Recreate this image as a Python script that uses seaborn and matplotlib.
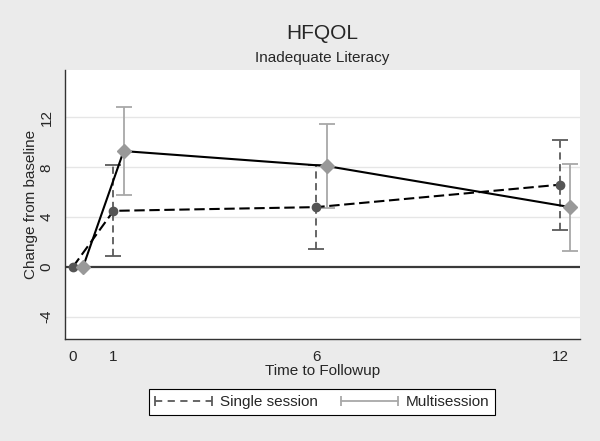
import numpy as np
import pandas as pd
import matplotlib
matplotlib.use("Agg")
import matplotlib.pyplot as plt
import seaborn as sns
from matplotlib.lines import Line2D
from matplotlib.legend_handler import HandlerLine2D

# values
months = [0, 1, 6, 12]
single_mean = [0.0, 4.5, 4.8, 6.6]
single_lo = [0.0, 0.9, 1.4, 3.0]
single_hi = [0.0, 8.2, 8.2, 10.2]
multi_mean = [0.0, 9.3, 8.1, 4.8]
multi_lo = [0.0, 5.8, 4.7, 1.3]
multi_hi = [0.0, 12.8, 11.5, 8.3]
x_offset = 0.25  # multisession plotted slightly right of the time point

df = pd.concat([
    pd.DataFrame({"time": months, "change": single_mean, "lo": single_lo,
                  "hi": single_hi, "group": "Single session"}),
    pd.DataFrame({"time": np.array(months) + x_offset, "change": multi_mean,
                  "lo": multi_lo, "hi": multi_hi, "group": "Multisession"}),
], ignore_index=True)

sns.set_style("white")
plt.rcParams["font.family"] = ["Liberation Sans", "DejaVu Sans"]
plt.rcParams["axes.unicode_minus"] = False

bg = "#ebebeb"
fig = plt.figure(figsize=(6, 4.41), dpi=100, facecolor=bg)
ax = fig.add_axes([0.108, 0.231, 0.859, 0.610])
ax.set_facecolor("white")

# gridlines and zero line
for yv in [-4, 4, 8, 12]:
    ax.axhline(yv, color="#e6e6e6", lw=1.0, zorder=0)
ax.axhline(0, color="#3a3a3a", lw=1.6, zorder=1)

styles = {
    "Single session": dict(ecolor="#5a5a5a", ls=(0, (4, 2.5)), mcolor="#555555",
                           marker="o", ms=6),
    "Multisession": dict(ecolor="#a8a8a8", ls="-", mcolor="#999999",
                         marker="D", ms=7),
}

for name, st in styles.items():
    sub = df[df["group"] == name]
    ci = sub[sub["hi"] > sub["lo"]]
    eb = ax.errorbar(ci["time"], ci["change"],
                     yerr=[ci["change"] - ci["lo"], ci["hi"] - ci["change"]],
                     fmt="none", ecolor=st["ecolor"], elinewidth=1.3,
                     capsize=5.5, capthick=1.3, zorder=2)
    eb[2][0].set_linestyle(st["ls"])

sns.lineplot(data=df, x="time", y="change", hue="group", style="group",
             palette={"Single session": "black", "Multisession": "black"},
             dashes={"Single session": (5, 2.2), "Multisession": ""},
             lw=1.5, legend=False, ax=ax, zorder=3, sort=True)

for name, st in styles.items():
    sub = df[df["group"] == name]
    ax.plot(sub["time"], sub["change"], ls="none", marker=st["marker"],
            ms=st["ms"], color=st["mcolor"], mec=st["mcolor"], zorder=4)

ax.set_xlim(-0.2, 12.5)
ax.set_ylim(-5.8, 15.8)
ax.set_xticks(months)
ax.set_yticks([-4, 0, 4, 8, 12])
ax.tick_params(axis="both", direction="out", length=5, width=1,
               color="#333333", labelsize=11, pad=3)
for lab in ax.get_yticklabels():
    lab.set_rotation(90)
    lab.set_va("center")

for side in ["top", "right"]:
    ax.spines[side].set_visible(False)
for side in ["left", "bottom"]:
    ax.spines[side].set_color("#333333")
    ax.spines[side].set_linewidth(1.0)

ax.set_xlabel("Time to Followup", fontsize=11, labelpad=0)
ax.set_ylabel("Change from baseline", fontsize=11, labelpad=1)

fig.text(0.537, 0.925, "HFQOL", ha="center", va="center", fontsize=15)
fig.text(0.537, 0.868, "Inadequate Literacy", ha="center", va="center",
         fontsize=11)

handles = [
    Line2D([], [], color="#5a5a5a", ls=(0, (4, 3)), lw=1.3, marker="|",
           ms=7, mew=1.3),
    Line2D([], [], color="#a8a8a8", ls="-", lw=1.3, marker="|", ms=7,
           mew=1.3),
]
hmap = {h: HandlerLine2D(marker_pad=0, numpoints=2) for h in handles}
leg = fig.legend(handles, ["Single session", "Multisession"], loc="center",
                 bbox_to_anchor=(0.537, 0.088), ncol=2, handler_map=hmap,
                 handlelength=3.73, handletextpad=0.52, columnspacing=1.5,
                 fontsize=11, frameon=True, fancybox=False,
                 edgecolor="black", facecolor="white", framealpha=1,
                 borderpad=0.4)
leg.get_frame().set_linewidth(0.8)

fig.savefig("out.png", dpi=100, facecolor=bg)
